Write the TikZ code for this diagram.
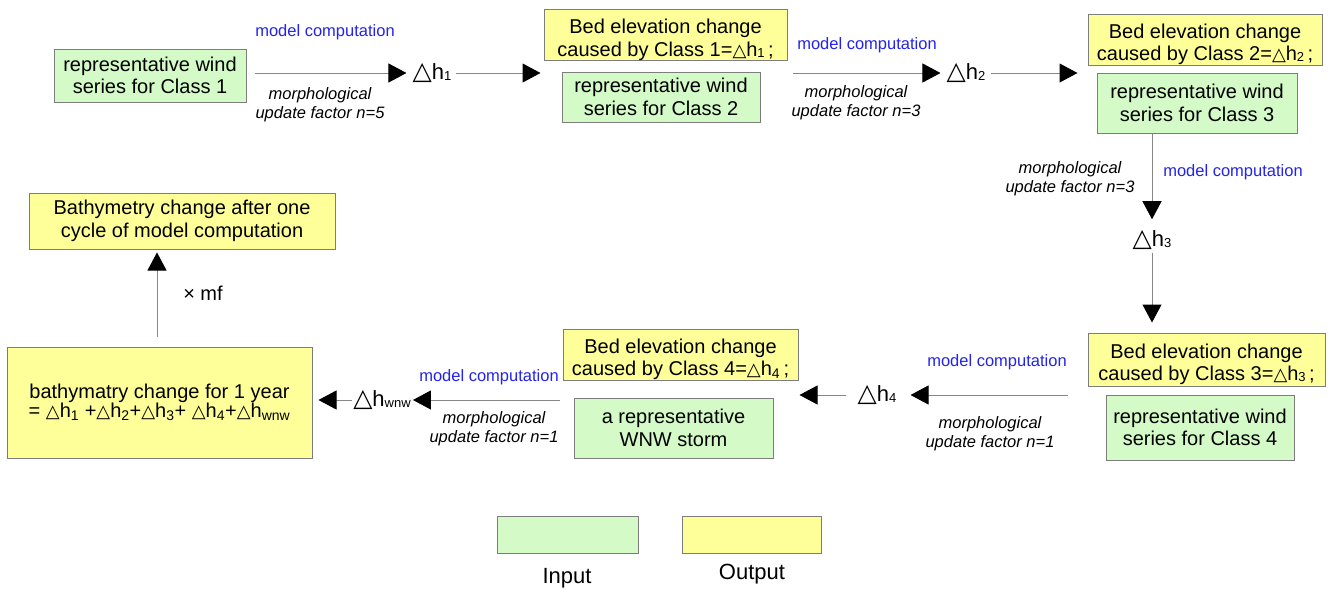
\documentclass[tikz,border=0pt]{standalone}
\usepackage{fontspec}
\setmainfont{Liberation Sans}
\newfontfamily\djv{DejaVu Sans}
\usetikzlibrary{arrows.meta}
\definecolor{ingreen}{RGB}{212,250,200}
\definecolor{outyellow}{RGB}{255,255,153}
\definecolor{boxline}{RGB}{125,125,125}
\definecolor{lineg}{RGB}{135,135,135}
\definecolor{mcblue}{RGB}{35,35,235}
\newcommand{\tri}{{\djv\fontsize{25}{22}\selectfont △}}
\newcommand{\stri}{{\djv\fontsize{18}{16}\selectfont △}}
\newcommand{\sub}[1]{\raisebox{-1pt}{\fontsize{13}{13}\selectfont #1}}
\begin{document}
\begin{tikzpicture}[x=1pt,y=-1pt,
  box/.style={draw=boxline, line width=1pt, align=center, inner sep=0pt, font=\fontsize{20}{22.5}\selectfont},
  inbox/.style={box, fill=ingreen},
  outbox/.style={box, fill=outyellow},
  dh/.style={inner sep=0pt, font=\fontsize{22}{22}\selectfont},
  mc/.style={text=mcblue, inner sep=0pt, font=\fontsize{16.5}{18}\selectfont},
  mfac/.style={align=center, inner sep=0pt, font=\fontsize{16.5}{19}\selectfont\itshape},
  lab/.style={inner sep=0pt, font=\fontsize{22}{22}\selectfont},
  arr/.style={draw=lineg, line width=1pt, -{Triangle[length=18pt,width=19pt,black]}},
]
\useasboundingbox (0,0) rectangle (1337,589);

% boxes
\node[inbox, minimum width=192pt, minimum height=53pt] (b1) at (150,75.5) {representative wind\\series for Class 1};
\node[outbox, minimum width=243pt, minimum height=50pt] (y2) at (665.5,35) {\rule{0pt}{24pt}Bed elevation change\\caused by Class 1=\stri h\sub{1}\,;};
\node[inbox, minimum width=198pt, minimum height=50pt] (g2) at (661,97) {representative wind\\series for Class 2};
\node[outbox, minimum width=234pt, minimum height=51pt] (y3) at (1205,39.5) {\rule{0pt}{24pt}Bed elevation change\\caused by Class 2=\stri h\sub{2}\,;};
\node[inbox, minimum width=200pt, minimum height=60pt] (g3) at (1197,103) {representative wind\\series for Class 3};
\node[outbox, minimum width=237pt, minimum height=53pt] (y5) at (1206.5,359.5) {\rule{0pt}{24pt}Bed elevation change\\caused by Class 3=\stri h\sub{3}\,;};
\node[inbox, minimum width=188pt, minimum height=65pt] (g4) at (1200,427.5) {representative wind\\series for Class 4};
\node[outbox, minimum width=235pt, minimum height=51pt] (y4) at (680.5,354.5) {\rule{0pt}{24pt}Bed elevation change\\caused by Class 4=\stri h\textsubscript{4}\,;};
\node[inbox, minimum width=199pt, minimum height=60pt] (g5) at (673.5,428) {a representative\\WNW storm};
\node[outbox, minimum width=305pt, minimum height=111pt] (b9) at (159.5,402.5) {bathymatry change for 1 year\\[-3pt]= \stri h\textsubscript{1} +\stri h\textsubscript{2}+\stri h\textsubscript{3}+ \stri h\textsubscript{4}+\stri h\textsubscript{wnw}};
\node[outbox, minimum width=306pt, minimum height=56pt] (b10) at (182,221) {Bathymetry change after one\\cycle of model computation};

% delta-h labels
\node[dh] (d1) at (432,73) {\tri h\sub{1}};
\node[dh] (d2) at (966,73) {\tri h\sub{2}};
\node[dh] (d3) at (1152,240) {\tri h\sub{3}};
\node[dh] (d4) at (877,395) {\tri h\sub{4}};
\node[dh] (dw) at (382,400) {\tri h\sub{wnw}};

% model computation labels
\node[mc] (c1) at (325,32) {model computation};
\node[mc] (c2) at (867,45) {model computation};
\node[mc] (c3) at (1233,172) {model computation};
\node[mc] (c4) at (997,362) {model computation};
\node[mc] (c5) at (489,377) {model computation};

% morphological factors
\node[mfac] (m1) at (320,104.5) {morphological\\update factor n=5};
\node[mfac] (m2) at (856,102.5) {morphological\\update factor n=3};
\node[mfac] (m3) at (1070,179) {morphological\\update factor n=3};
\node[mfac] (m4) at (990,433.5) {morphological\\update factor n=1};
\node[mfac] (m5) at (494,428.5) {morphological\\update factor n=1};

\node[lab, font=\fontsize{20}{20}\selectfont] (xmf) at (203,293) {× mf};

% connectors
\draw[arr] ([xshift=8pt]b1.east |- d1.west) -- ([xshift=-6pt]d1.west);
\draw[arr] ([xshift=4pt]d1.east) -- ([xshift=-3pt]y2.west |- d1.east);
\draw[arr] ([xshift=5pt]y2.east |- d2.west) -- ([xshift=-6pt]d2.west);
\draw[arr] ([xshift=5pt]d2.east) -- ([xshift=-10pt]y3.west |- d2.east);
\draw[arr] (d3.north |- g3.south) -- ([yshift=11pt]d3.north);
\draw[arr] ([yshift=-3pt]d3.south) -- ([yshift=10pt]d3.south |- y5.north);
\draw[arr] ([xshift=-20pt]y5.west |- d4.east) -- ([xshift=14pt]d4.east);
\draw[arr] ([xshift=-11pt]d4.west) -- ([xshift=1pt]y4.east |- d4.west);
\draw[arr] ([xshift=-3pt]y4.west |- dw.east) -- ([xshift=2pt]dw.east);
\draw[arr] ([xshift=-1pt]dw.west) -- ([xshift=6pt]b9.east |- dw.west);
\draw[arr] ([xshift=-2.5pt,yshift=10pt]b9.north) -- ([xshift=-2.5pt,yshift=-3pt]b9.north |- b10.south);

% legend
\node[inbox, minimum width=141pt, minimum height=37pt] (lg) at (567.5,534.5) {};
\node[outbox, minimum width=139pt, minimum height=37pt] (ly) at (751.5,534.5) {};
\node[lab] (li) at (567,578) {Input};
\node[lab] (lo) at (752,574) {Output};
\end{tikzpicture}
\end{document}
